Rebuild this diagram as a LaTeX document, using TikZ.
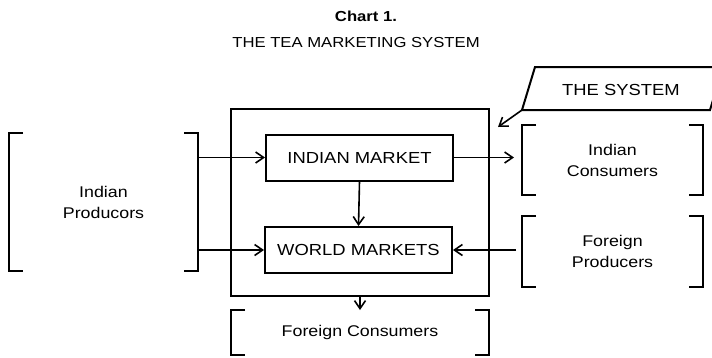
\documentclass[tikz,border=0pt]{standalone}
\usepackage{fontspec}
\setmainfont[FakeStretch=1.15]{Liberation Sans}
\usetikzlibrary{arrows.meta}
\tikzset{
		% Two node styles for the chart: drawn market boxes and bracketed groups
		market node/.style={rectangle,draw,minimum width=187pt,minimum height=46pt,font=\fontsize{16}{19}\selectfont},
		group node/.style={rectangle,align=center,inner sep=0,font=\fontsize{15.5}{21}\selectfont},
		flow/.style={-{Straight Barb[length=8pt,width=11pt,line width=1.6pt]},line width=1.6pt}
	}

\begin{document}
\begin{tikzpicture}
		[
			x=1pt,
			y=-1pt,
			line width=2pt
		]
		\useasboundingbox (0,0) rectangle (712,357);
		\node [font=\bfseries\fontsize{14.5}{17}\selectfont] (chart) at (366,16) {Chart 1.};
		\node [font=\fontsize{14.5}{17}\selectfont] (title) at (356,43) {THE TEA MARKETING SYSTEM};
		% the system and its two markets
		\node [draw,minimum width=258pt,minimum height=187pt] (sys) at (360,202.5) {};
		\node [market node] (im) at (359.5,157.5) {INDIAN MARKET};
		\node [market node] (wm) at (358.5,250) {WORLD MARKETS};
		% groups outside
		\node [group node,minimum width=187pt,minimum height=136pt] (ip) at (103.5,202) {Indian\\Producors};
		\node [group node,minimum width=179pt,minimum height=68pt] (ic) at (612.5,160) {Indian\\Consumers};
		\node [group node,minimum width=179pt,minimum height=69pt] (fp) at (612.5,251.5) {Foreign\\Producers};
		\node [group node,minimum width=256pt,minimum height=43pt] (fc) at (360,332.5) {Foreign Consumers};
		\foreach \g in {ip,ic,fp,fc}
		{
			\draw [line width=2.3pt] (\g.north west) ++(14,0) -| (\g.south west) -- ++(14,0);
			\draw [line width=2.3pt] (\g.north east) ++(-14,0) -| (\g.south east) -- ++(-14,0);
		}
		% label of the system
		\draw (535,67) -- (723,67) -- (710,110) -- (522,110) -- cycle;
		\node [font=\fontsize{16}{19}\selectfont] (tsys) at (621,90) {THE SYSTEM};
		\coordinate (corner) at (522,110);
		\draw [flow] (corner) -- ([xshift=8pt,yshift=-19pt]sys.north east);
		% flows
		\draw [flow] (ip.east |- im.west) -- (im.west);
		\draw [flow] (ip.east |- wm.west) -- (wm.west);
		\draw [flow] (im.south) -- (wm.north);
		\draw [flow,shorten >=8pt] (im.east) -- (ic.west |- im.east);
		\draw [flow,shorten <=6pt] (fp.west |- wm.east) -- (wm.east);
		\draw [flow] (sys.south) -- (fc.north);
	\end{tikzpicture}
\end{document}
